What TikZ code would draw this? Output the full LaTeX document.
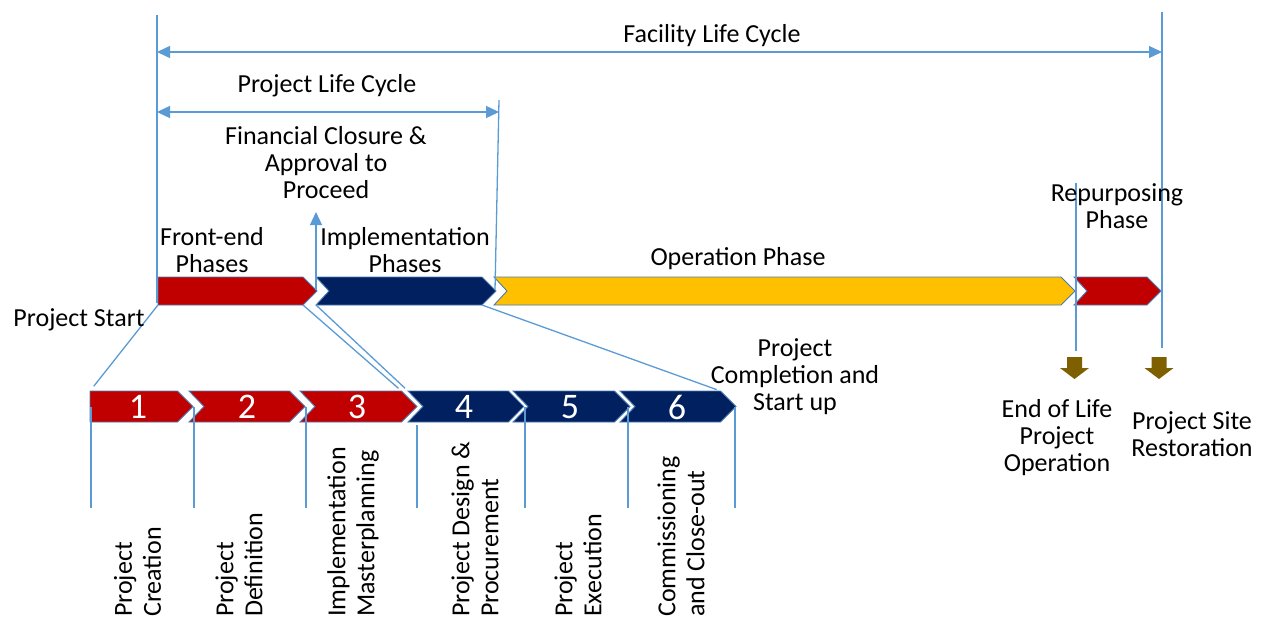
\documentclass[tikz,border=0pt]{standalone}
\usepackage{fontspec}
\setmainfont{Carlito}
\usetikzlibrary{arrows.meta}

\definecolor{ruleblue}{HTML}{5B9BD5}
\definecolor{edgeblue}{HTML}{4A7AB0}
\definecolor{phred}{HTML}{C00000}
\definecolor{phnavy}{HTML}{002060}
\definecolor{phgold}{HTML}{FFC000}
\definecolor{phbrown}{HTML}{7F6000}

\tikzset{
  chevshape/.style={draw=edgeblue, line width=0.9pt, line join=miter,
    preaction={draw=white, line width=5pt}},
  rule/.style={draw=ruleblue, line width=1.3pt},
  span/.style={rule, {Triangle[length=13pt,width=12pt]}-{Triangle[length=13pt,width=12pt]}},
  upto/.style={rule, -{Triangle[length=13pt,width=12pt]}},
  lbl/.style={font=\fontsize{26}{27}\selectfont, align=center, inner sep=0pt, text=black},
  vlbl/.style={font=\fontsize{26}{29}\selectfont, align=left, inner sep=0pt, rotate=90, anchor=west},
  num/.style={font=\fontsize{36}{40}\selectfont, text=white, inner sep=0pt},
  drop/.style={fill=phbrown, draw=none},
}

% chevron: name, fill, left x, tip x, top y, bottom y, notch depth
\newcommand\chevron[7]{%
  \pgfmathsetmacro\chvm{(#5+#6)/2}%
  \pgfmathsetmacro\chvd{(#6-#5)/2}%
  \coordinate (#1-nw) at (#3,#5);
  \coordinate (#1-ne) at (#4-\chvd,#5);
  \coordinate (#1-tip) at (#4,\chvm);
  \coordinate (#1-se) at (#4-\chvd,#6);
  \coordinate (#1-sw) at (#3,#6);
  \coordinate (#1-notch) at (#3+#7,\chvm);
  \path[chevshape, fill=#2] (#1-nw) -- (#1-ne) -- (#1-tip) -- (#1-se) -- (#1-sw) -- (#1-notch) -- cycle;
}

% down arrow: centre x, top y
\newcommand\dropArrow[2]{%
  \path[drop] (#1-7.5,#2) -- (#1+7.5,#2) -- (#1+7.5,#2+11) -- (#1+14.5,#2+11)
    -- (#1,#2+22) -- (#1-14.5,#2+11) -- (#1-7.5,#2+11) -- cycle;
}

\begin{document}
\begin{tikzpicture}[x=1pt, y=-1pt]
\useasboundingbox (0,0) rectangle (1266,619);

% ---- phase bar ----
\chevron{fe}{phred}{158}{317}{277}{305}{0}
\chevron{ip}{phnavy}{316}{496}{277}{305}{13}
\chevron{op}{phgold}{494}{1075}{277}{305}{13}
\chevron{rp}{phred}{1074}{1161}{277}{305}{13}

% ---- detailed phases ----
\chevron{c1}{phred}{90}{193}{391}{422}{0}
\chevron{c2}{phred}{189}{305}{391}{422}{15}
\chevron{c3}{phred}{300}{417}{391}{422}{15}
\chevron{c4}{phnavy}{408}{524}{391}{422}{15}
\chevron{c5}{phnavy}{513}{630}{391}{422}{15}
\chevron{c6}{phnavy}{620}{736}{391}{422}{15}

\node[num] (n1) at (138,407) {1};
\node[num] (n2) at (247,407) {2};
\node[num] (n3) at (357,407) {3};
\node[num] (n4) at (464,407) {4};
\node[num] (n5) at (570,407) {5};
\node[num] (n6) at (677,407) {6};

% ---- reference lines ----
\coordinate (fstart) at (157,15);
\coordinate (fstartlow) at (157,303);
\coordinate (fend) at (1162,12);
\coordinate (fendlow) at (1162,348);
\coordinate (pend) at (499,100);
\coordinate (pendlow) at (495,290);
\coordinate (rstart) at (1076,183);
\coordinate (rstartlow) at (1076,351);
\draw[rule] (fstart) -- (fstartlow);
\draw[rule] (fend) -- (fendlow);
\draw[rule] (pend) -- (pendlow);
\draw[rule] (rstart) -- (rstartlow);

\coordinate (fl) at (157,52);
\coordinate (fr) at (1162,52);
\draw[span] (fl) -- (fr);
\coordinate (pl) at (157,112);
\coordinate (pr) at (499,112);
\draw[span] (pl) -- (pr);

\coordinate (fcbase) at (316,290);
\coordinate (fctop) at (316,212);
\draw[upto] (fcbase) -- (fctop);

% ---- zoom connectors ----
\draw[rule, shorten >=6pt] (fe-sw) -- (c1-nw);
\draw[rule, shorten >=4pt] (fe-se) -- (c3-ne);
\draw[rule, shorten >=4pt] (ip-sw) -- (c4-nw);
\draw[rule, shorten >=4pt] (ip-se) -- (c6-ne);

% ---- step dividers ----
\foreach \nm/\xx/\yy in {d1/91/407, d2/194/407, d3/306/407, d4/417/425, d5/525/407, d6/628/407, d7/735/407}{
  \coordinate (\nm-top) at (\xx,\yy);
  \coordinate (\nm-bot) at (\xx,508);
  \draw[rule] (\nm-top) -- (\nm-bot);
}

% ---- labels ----
\node[lbl] (facility) at (712,36) {Facility Life Cycle};
\node[lbl] (projlife) at (327,86) {Project Life Cycle};
\node[lbl] (finclose) at (326,163) {Financial Closure \&\\Approval to\\Proceed};
\node[lbl] (frontend) at (212,250) {Front-end\\Phases};
\node[lbl] (implph) at (405,250) {Implementation\\Phases};
\node[lbl] (operph) at (738,259) {Operation Phase};
\node[lbl] (repurp) at (1117,206) {Repurposing\\Phase};
\node[lbl] (pstart) at (79,320) {Project Start};
\node[lbl] (pcomp) at (795,377) {Project\\Completion and\\Start up};
\node[lbl] (eol) at (1057,438) {End of Life\\Project\\Operation};
\node[lbl] (restore) at (1192,434) {Project Site\\Restoration};

\node[vlbl] (s1) at (137.5,617) {Project\\Creation};
\node[vlbl] (s2) at (239,617) {Project\\Definition};
\node[vlbl] (s3) at (353,617) {Implementation\\Masterplanning};
\node[vlbl] (s4) at (475,617) {Project Design \&\\Procurement};
\node[vlbl] (s5) at (578,617) {Project\\Execution};
\node[vlbl] (s6) at (681,617) {Commissioning\\and Close-out};

% ---- end markers ----
\dropArrow{1074.5}{357}
\dropArrow{1159}{357}

\end{tikzpicture}
\end{document}
